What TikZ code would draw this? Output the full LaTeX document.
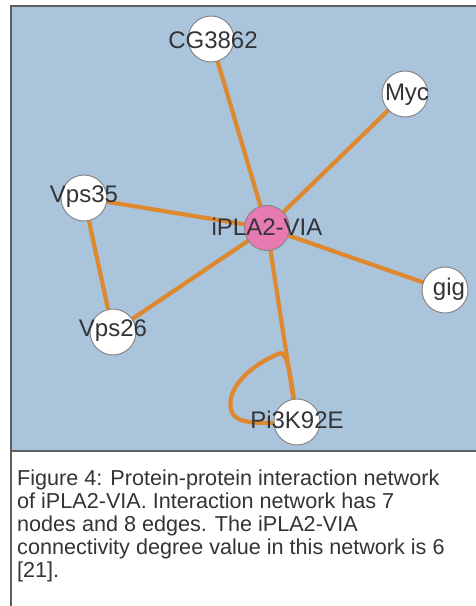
\documentclass[tikz,border=0pt]{standalone}
\usepackage{fontspec}
\setmainfont{Liberation Sans}
\pgfdeclarelayer{panel}
\pgfdeclarelayer{edges}
\pgfsetlayers{panel,edges,main}
\definecolor{panelblue}{RGB}{170,196,220}
\definecolor{edgeorange}{RGB}{222,136,48}
\definecolor{hubpink}{RGB}{232,122,178}
\definecolor{ringgray}{RGB}{135,135,135}
\definecolor{labelgray}{RGB}{50,52,56}
\definecolor{framegray}{RGB}{95,95,95}
\tikzset{
  protein/.style={circle, draw=ringgray, line width=1pt, fill=white,
    minimum size=46pt, inner sep=0pt},
  hub/.style={protein, fill=hubpink, minimum size=45pt},
  lbl/.style={text=labelgray, font=\fontsize{24}{24}\selectfont, inner sep=0pt},
  interaction/.style={draw=edgeorange, line width=4.2pt},
}
\begin{document}
\begin{tikzpicture}[x=1pt, y=-1pt]
\useasboundingbox (0,0) rectangle (476,606);

% proteins
\node[hub]     (hub)  at (267,228) {};
\node[protein] (cg)   at (211,39)  {};
\node[protein] (myc)  at (405,94)  {};
\node[protein] (v35)  at (84,198)  {};
\node[protein] (gig)  at (445,290) {};
\node[protein] (v26)  at (113,332) {};
\node[protein] (pik)  at (297,422) {};

% labels on top of the circles
\node[lbl] at (213,40)  {CG3862};
\node[lbl] at (407,95)  {Myc};
\node[lbl] at (84,197)  {Vps35};
\node[lbl] at (267,227) {iPLA2-VIA};
\node[lbl] at (449,289) {gig};
\node[lbl] at (113,331) {Vps26};
\node[lbl] at (297,420) {Pi3K92E};

% interactions
\begin{pgfonlayer}{edges}
  \draw[interaction] (hub.center) -- (cg.center);
  \draw[interaction] (hub.center) -- (myc.center);
  \draw[interaction] (hub.center) -- (v35.center);
  \draw[interaction] (hub.center) -- (gig.center);
  \draw[interaction] (hub.center) -- (v26.center);
  \draw[interaction] (hub.center) -- (pik.center);
  \draw[interaction] (v35.center) -- (v26.center);
  % self interaction of Pi3K92E
  \draw[interaction] (pik.center) .. controls (289,360) and (286,350) .. (278,354)
     .. controls (250,366) and (226,388) .. (231,410)
     .. controls (235,424) and (255,424) .. (pik.center);
\end{pgfonlayer}

% panel and caption box
\begin{pgfonlayer}{panel}
  \fill[white] (0,0) rectangle (476,606);
  \fill[panelblue] (11,6) rectangle (478,451);
  \draw[framegray, line width=1.6pt] (478,6) -- (11,6) -- (11,451) -- (478,451);
  \draw[framegray, line width=1.2pt] (11,451) -- (11,608);
\end{pgfonlayer}

\node[anchor=north west, align=left, inner sep=0pt, text=labelgray,
      font=\fontsize{21.6}{23}\selectfont] (caption) at (17,470)
  {Figure 4: Protein-protein interaction network\\
   of iPLA2-VIA. Interaction network has 7\\
   nodes and 8 edges. The iPLA2-VIA\\
   connectivity degree value in this network is 6\\
   \relax[21].};
\end{tikzpicture}
\end{document}
